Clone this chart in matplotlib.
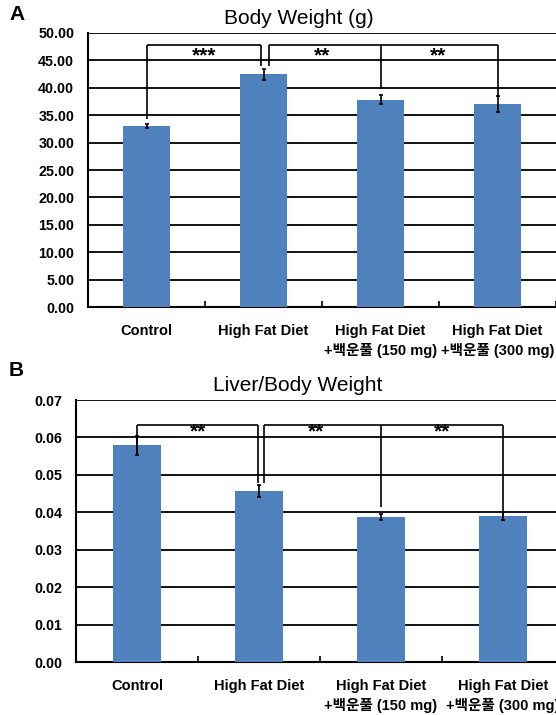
import matplotlib
matplotlib.use("Agg")
import matplotlib.pyplot as plt
import numpy as np

plt.rcParams['font.family'] = ['Liberation Sans', 'Noto Sans CJK KR', 'DejaVu Sans']
plt.rcParams['font.weight'] = 'bold'

# ---- data ----
groups = ["Control", "High Fat Diet", "High Fat Diet\n+백운풀 (150 mg)", "High Fat Diet\n+백운풀 (300 mg)"]

body_weight = [33.0, 42.5, 37.8, 37.0]
body_weight_err = [0.35, 1.0, 0.8, 1.5]
body_ticks = [0, 5, 10, 15, 20, 25, 30, 35, 40, 45, 50]

liver_ratio = [0.0579, 0.0456, 0.0388, 0.0390]
liver_ratio_err = [0.0026, 0.0016, 0.0008, 0.0010]
liver_ticks = [0.00, 0.01, 0.02, 0.03, 0.04, 0.05, 0.06, 0.07]

sig_body = ["***", "**", "**"]
sig_liver = ["**", "**", "**"]

BAR = "#4F81BD"
W, H = 556, 715

fig = plt.figure(figsize=(W / 100, H / 100), dpi=100)


def style_axes(ax, ticks, fmt):
    x = np.arange(len(groups))
    ax.set_xlim(-0.5, len(groups) - 0.5)
    ax.set_ylim(ticks[0], ticks[-1])
    ax.set_yticks(ticks)
    ax.set_yticklabels([fmt.format(t) for t in ticks], fontsize=10.3, fontweight='bold')
    ax.tick_params(axis='y', length=0, pad=10)
    ax.set_xticks(x)
    ax.set_xticklabels(groups, fontsize=10.5, fontweight='bold', linespacing=1.45)
    ax.tick_params(axis='x', which='major', length=0, pad=12)
    ax.set_xticks(np.arange(len(groups) + 1) - 0.5, minor=True)
    ax.tick_params(axis='x', which='minor', direction='in', length=4, width=1.2, color='black')
    ax.grid(axis='y', color='black', linewidth=1.3)
    ax.set_axisbelow(True)
    for s in ['right', 'top']:
        ax.spines[s].set_visible(False)
    for s in ['left', 'bottom']:
        ax.spines[s].set_linewidth(1.5)
    return x


def bracket(ax, top, segs, legs, color='black'):
    x0, x1 = segs
    ax.plot([x0, x1], [top, top], color=color, lw=1.2, zorder=5, solid_capstyle='butt')
    for lx, ly in legs:
        ax.plot([lx, lx], [top, ly], color=color, lw=1.2, zorder=5, solid_capstyle='butt')


# ---- panel A: body weight ----
axA = fig.add_axes([88 / W, 1 - 307 / H, 468 / W, 274 / H])
xA = style_axes(axA, body_ticks, "{:.2f}")
axA.bar(xA, body_weight, width=0.4, color=BAR, zorder=3)
axA.errorbar(xA, body_weight, yerr=body_weight_err, fmt='none', ecolor='black',
             elinewidth=1.2, capsize=1.6, capthick=1.2, zorder=4)
bracket(axA, 47.8, (0, 0.975), [(0, 34.3), (0.975, 44.0)])
bracket(axA, 47.8, (1.05, 3), [(1.05, 44.0), (2, 39.7), (3, 38.3)])
for sx, s in zip([0.49, 1.5, 2.49], sig_body):
    axA.text(sx, 44.8, s, ha='center', va='baseline', fontsize=15, fontweight='bold', zorder=6)

# ---- panel B: liver / body weight ----
axB = fig.add_axes([76 / W, 1 - 662 / H, 488 / W, 262 / H])
xB = style_axes(axB, liver_ticks, "{:.2f}")
axB.bar(xB, liver_ratio, width=0.4, color=BAR, zorder=3)
axB.errorbar(xB, liver_ratio, yerr=liver_ratio_err, fmt='none', ecolor='black',
             elinewidth=1.2, capsize=1.6, capthick=1.2, zorder=4)
bracket(axB, 0.0634, (0, 0.99), [(0, 0.0552), (0.99, 0.0478)])
bracket(axB, 0.0632, (1.04, 3), [(1.04, 0.0478), (2, 0.0414), (3, 0.0378)])
for sx, s in zip([0.5, 1.47, 2.5], sig_liver):
    axB.text(sx, 0.0599, s, ha='center', va='baseline', fontsize=15, fontweight='bold', zorder=6)

# ---- titles and panel letters ----
fig.text(299 / W, 1 - 18 / H, "Body Weight (g)", ha='center', va='center', fontsize=15, fontweight='normal')
fig.text(298 / W, 1 - 386 / H, "Liver/Body Weight", ha='center', va='center', fontsize=15, fontweight='normal')
fig.text(9 / W, 1 - 15 / H, "A", ha='left', va='center', fontsize=15, fontweight='bold')
fig.text(9 / W, 1 - 370 / H, "B", ha='left', va='center', fontsize=15, fontweight='bold')

fig.savefig("out.png", dpi=100)
